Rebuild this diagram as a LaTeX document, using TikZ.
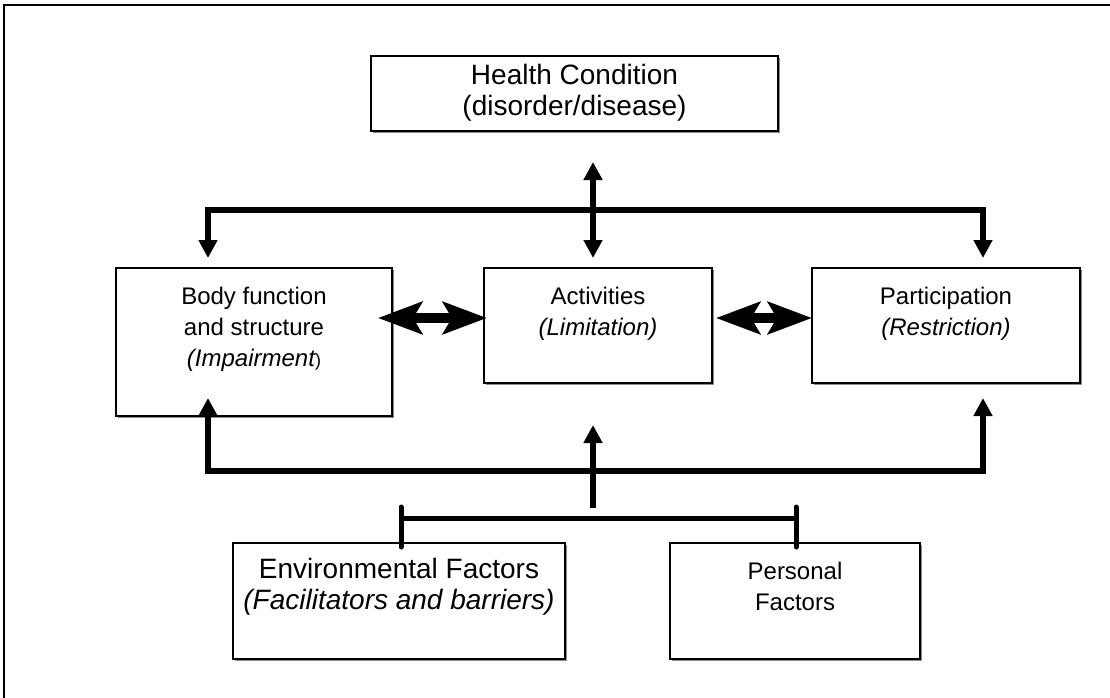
\documentclass[tikz,border=0pt]{standalone}
\usepackage{fontspec}
\setmainfont{Liberation Sans}
\usetikzlibrary{arrows.meta,shadows}

\tikzset{
  box/.style={draw, line width=1.6pt, fill=white, inner sep=0pt,
    drop shadow={shadow xshift=1.6pt, shadow yshift=-1.6pt, fill=black!45, opacity=1}},
  lbl/.style={align=center, inner sep=0pt, font=\fontsize{24}{31}\selectfont},
  biglbl/.style={lbl, font=\fontsize{28}{31}\selectfont},
  vtip/.tip={Triangle[length=18pt, width=18pt]},
  htip/.tip={Stealth[length=44pt, width=32pt, inset=9pt]},
  bus/.style={line width=5.5pt, line join=miter},
  fat/.style={line width=10pt, {htip}-{htip}},
  bracket/.style={line width=5pt},
}

\begin{document}
\begin{tikzpicture}[x=1pt, y=-1pt]
\useasboundingbox (0,0) rectangle (1110,698);

% page frame (only top and left edges fall inside the picture)
\draw[line width=2pt] (4,698) -- (4,5) -- (1110,5);

% boxes
\node[box, minimum width=407pt, minimum height=75pt]  (health) at (574.5,93.5) {};
\node[box, minimum width=276pt, minimum height=148pt] (body)   at (254,342)   {};
\node[box, minimum width=228pt, minimum height=115pt] (act)    at (598,325.5) {};
\node[box, minimum width=268pt, minimum height=115pt] (part)   at (946,325.5) {};
\node[box, minimum width=332pt, minimum height=116pt] (env)    at (399,601)   {};
\node[box, minimum width=250pt, minimum height=116pt] (pers)   at (795,601)   {};

% labels
\node[biglbl] (healthT) at (574.5,93) {Health Condition\\(disorder/disease)};
\node[lbl] (bodyT)   at (254,329)    {Body function\\and structure\\{\itshape (Impairment}{\fontsize{18}{31}\selectfont )}};
\node[lbl] (actT)    at (598,313.5)  {Activities\\{\itshape (Limitation)}};
\node[lbl] (partT)   at (946,313.5)  {Participation\\{\itshape (Restriction)}};
\node[biglbl] (envT) at (399,587)    {Environmental Factors\\{\itshape (Facilitators and barriers)}};
\node[lbl] (persT)   at (795,586.5)  {Personal\\Factors};

% connection points
\coordinate (tL)  at (208,258);
\coordinate (tLc) at (208,210);
\coordinate (tRc) at (983,210);
\coordinate (tR)  at (983,258);
\coordinate (tCu) at (593,162);
\coordinate (tCd) at (593,258);

\coordinate (bL)  at (208,398);
\coordinate (bLc) at (208,471);
\coordinate (bRc) at (983,471);
\coordinate (bR)  at (983,398);
\coordinate (bCu) at (593,425);
\coordinate (bCd) at (593,508);

\coordinate (hA1) at (378,318);
\coordinate (hA2) at (487,318);
\coordinate (hB1) at (716,318);
\coordinate (hB2) at (812,318);

\coordinate (brL) at (401,518);
\coordinate (brR) at (796,518);

% upper distribution bus
\draw[bus, {vtip}-{vtip}] (tL) -- (tLc) -- (tRc) -- (tR);
\draw[bus, {vtip}-{vtip}] (tCu) -- (tCd);

% side-by-side double arrows
\draw[fat] (hA1) -- (hA2);
\draw[fat] (hB1) -- (hB2);

% lower collecting bus
\draw[bus, {vtip}-{vtip}] (bL) -- (bLc) -- (bRc) -- (bR);
\draw[bus, -{vtip}] (bCd) -- (bCu);

% bracket joining the contextual factors
\draw[bracket] (brL) -- (brR);
\draw[bracket, line cap=round] ([yshift=11pt]brL) -- ([yshift=-29pt]brL);
\draw[bracket, line cap=round] ([yshift=11pt]brR) -- ([yshift=-29pt]brR);
\end{tikzpicture}
\end{document}
